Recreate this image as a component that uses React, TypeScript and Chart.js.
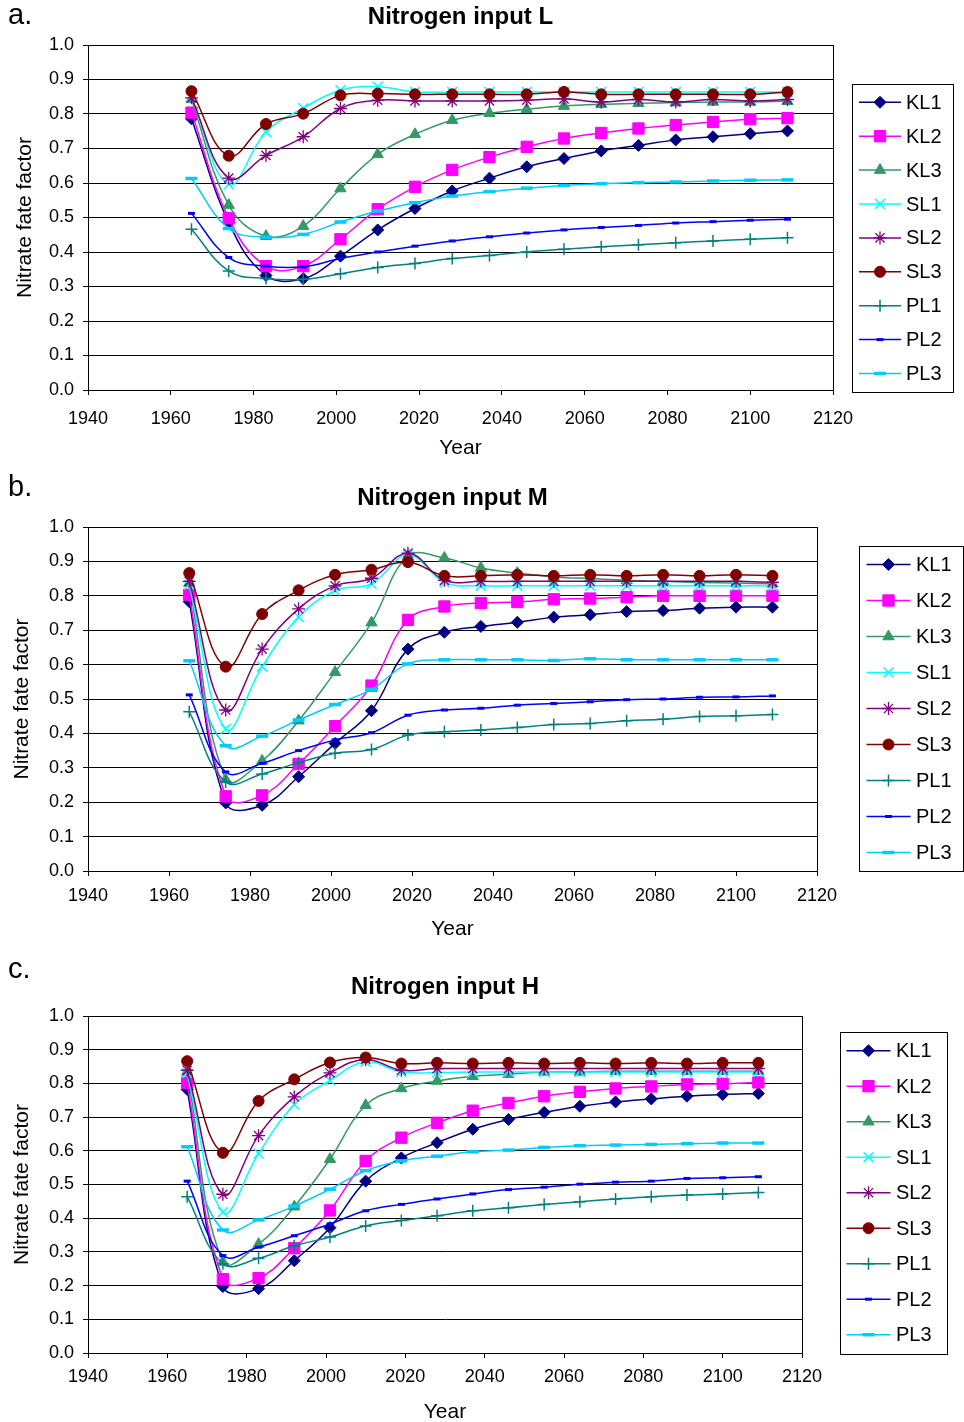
import React, { useEffect, useRef } from 'react';
import { Chart, registerables } from 'chart.js';

Chart.register(...registerables);

const FONT = '"Liberation Sans", Arial, Helvetica, sans-serif';
Chart.defaults.font.family = FONT;
Chart.defaults.color = '#000';

// ---------- data ----------
const YEARS = [1965, 1974, 1983, 1992, 2001, 2010, 2019, 2028, 2037, 2046, 2055, 2064, 2073, 2082, 2091, 2100, 2109];
const NAMES = ['KL1', 'KL2', 'KL3', 'SL1', 'SL2', 'SL3', 'PL1', 'PL2', 'PL3'];
const X_MIN = 1940;
const X_MAX = 2120;
const X_STEP = 20;
const Y_MIN = 0;
const Y_MAX = 1;
const Y_STEP = 0.1;

// Nitrogen input L
const L_KL1 = [0.786, 0.485, 0.332, 0.323, 0.388, 0.464, 0.526, 0.577, 0.614, 0.647, 0.671, 0.693, 0.709, 0.725, 0.734, 0.743, 0.751];
const L_KL2 = [0.804, 0.498, 0.359, 0.359, 0.437, 0.524, 0.589, 0.638, 0.675, 0.705, 0.729, 0.745, 0.758, 0.768, 0.777, 0.785, 0.788];
const L_KL3 = [0.843, 0.536, 0.446, 0.475, 0.584, 0.683, 0.741, 0.782, 0.802, 0.814, 0.823, 0.828, 0.831, 0.833, 0.835, 0.835, 0.837];
const L_SL1 = [0.850, 0.596, 0.748, 0.817, 0.869, 0.879, 0.864, 0.864, 0.864, 0.864, 0.864, 0.864, 0.864, 0.864, 0.864, 0.864, 0.864];
const L_SL2 = [0.847, 0.614, 0.680, 0.734, 0.816, 0.840, 0.838, 0.838, 0.838, 0.840, 0.844, 0.835, 0.842, 0.835, 0.842, 0.838, 0.842];
const L_SL3 = [0.866, 0.679, 0.771, 0.801, 0.854, 0.859, 0.857, 0.857, 0.857, 0.857, 0.864, 0.857, 0.857, 0.857, 0.857, 0.857, 0.864];
const L_PL1 = [0.466, 0.345, 0.323, 0.321, 0.337, 0.355, 0.367, 0.381, 0.390, 0.400, 0.408, 0.415, 0.421, 0.427, 0.432, 0.437, 0.441];
const L_PL2 = [0.512, 0.384, 0.359, 0.357, 0.381, 0.400, 0.417, 0.432, 0.444, 0.455, 0.464, 0.471, 0.477, 0.484, 0.488, 0.492, 0.495];
const L_PL3 = [0.613, 0.468, 0.443, 0.451, 0.487, 0.519, 0.543, 0.562, 0.575, 0.585, 0.593, 0.598, 0.601, 0.603, 0.606, 0.608, 0.609];

// Nitrogen input M
const M_KL1 = [0.783, 0.198, 0.191, 0.274, 0.371, 0.466, 0.645, 0.694, 0.711, 0.723, 0.738, 0.745, 0.754, 0.757, 0.764, 0.767, 0.767];
const M_KL2 = [0.803, 0.217, 0.220, 0.311, 0.421, 0.539, 0.730, 0.769, 0.779, 0.782, 0.790, 0.792, 0.796, 0.800, 0.800, 0.800, 0.800];
const M_KL3 = [0.837, 0.266, 0.320, 0.437, 0.578, 0.722, 0.915, 0.910, 0.881, 0.866, 0.855, 0.850, 0.845, 0.842, 0.839, 0.837, 0.835];
const M_SL1 = [0.832, 0.413, 0.594, 0.738, 0.815, 0.835, 0.919, 0.839, 0.829, 0.829, 0.829, 0.829, 0.829, 0.829, 0.829, 0.829, 0.829];
const M_SL2 = [0.842, 0.468, 0.645, 0.762, 0.829, 0.851, 0.924, 0.845, 0.842, 0.842, 0.842, 0.842, 0.842, 0.842, 0.842, 0.842, 0.839];
const M_SL3 = [0.866, 0.594, 0.747, 0.816, 0.861, 0.876, 0.898, 0.858, 0.858, 0.861, 0.858, 0.861, 0.858, 0.861, 0.858, 0.861, 0.858];
const M_PL1 = [0.463, 0.259, 0.282, 0.315, 0.342, 0.353, 0.395, 0.405, 0.410, 0.417, 0.426, 0.429, 0.437, 0.441, 0.449, 0.451, 0.455];
const M_PL2 = [0.512, 0.288, 0.313, 0.350, 0.381, 0.402, 0.453, 0.468, 0.473, 0.482, 0.487, 0.492, 0.498, 0.500, 0.505, 0.506, 0.509];
const M_PL3 = [0.611, 0.364, 0.392, 0.439, 0.484, 0.528, 0.602, 0.614, 0.614, 0.614, 0.612, 0.617, 0.614, 0.614, 0.614, 0.614, 0.614];

// Nitrogen input H
const H_KL1 = [0.782, 0.197, 0.191, 0.274, 0.372, 0.510, 0.579, 0.624, 0.664, 0.693, 0.714, 0.732, 0.745, 0.754, 0.762, 0.767, 0.770];
const H_KL2 = [0.802, 0.219, 0.222, 0.311, 0.423, 0.570, 0.639, 0.683, 0.719, 0.742, 0.762, 0.775, 0.785, 0.791, 0.797, 0.799, 0.803];
const H_KL3 = [0.834, 0.270, 0.323, 0.434, 0.575, 0.735, 0.785, 0.807, 0.821, 0.827, 0.834, 0.834, 0.836, 0.836, 0.836, 0.836, 0.836];
const H_SL1 = [0.831, 0.418, 0.592, 0.737, 0.809, 0.864, 0.834, 0.832, 0.834, 0.834, 0.834, 0.834, 0.834, 0.834, 0.834, 0.834, 0.834];
const H_SL2 = [0.839, 0.471, 0.645, 0.760, 0.831, 0.871, 0.839, 0.844, 0.844, 0.844, 0.844, 0.844, 0.844, 0.844, 0.844, 0.844, 0.844];
const H_SL3 = [0.866, 0.594, 0.748, 0.812, 0.862, 0.877, 0.859, 0.861, 0.859, 0.861, 0.859, 0.861, 0.859, 0.861, 0.859, 0.861, 0.861];
const H_PL1 = [0.464, 0.265, 0.281, 0.318, 0.344, 0.377, 0.393, 0.407, 0.422, 0.431, 0.441, 0.449, 0.457, 0.464, 0.469, 0.472, 0.476];
const H_PL2 = [0.510, 0.289, 0.314, 0.348, 0.383, 0.422, 0.441, 0.457, 0.472, 0.485, 0.492, 0.501, 0.507, 0.510, 0.518, 0.520, 0.523];
const H_PL3 = [0.612, 0.365, 0.395, 0.436, 0.486, 0.541, 0.570, 0.584, 0.597, 0.602, 0.610, 0.615, 0.617, 0.619, 0.621, 0.623, 0.623];

// ---------- styles ----------
type Sty = { color: string; style: string; radius: number; pbw: number };
const STYLES: Sty[] = [
  { color: '#000080', style: 'rectRot', radius: 6, pbw: 1 },
  { color: '#FF00FF', style: 'rect', radius: 8, pbw: 1 },
  { color: '#339966', style: 'triangle', radius: 6.5, pbw: 1 },
  { color: '#00FFFF', style: 'crossRot', radius: 7, pbw: 1.5 },
  { color: '#800080', style: 'star', radius: 6.5, pbw: 1.3 },
  { color: '#800000', style: 'circle', radius: 5.5, pbw: 1 },
  { color: '#008080', style: 'cross', radius: 6, pbw: 1.5 },
  { color: '#0000FF', style: 'line', radius: 3.5, pbw: 3 },
  { color: '#00CCFF', style: 'line', radius: 6, pbw: 3.5 },
];

type Panel = {
  top: number; height: number;
  chartTop: number; chartBottom: number; chartRight: number;
  label: string; labelBaseline: number;
  title: string; titleY: number;
  xTickPad: number; yearPad: number; yTitlePad: number;
  legend: { x0: number; y0: number; x1: number; y1: number; lx0: number; lx1: number; tx: number; firstY: number; step: number };
  series: number[][];
};

const PANELS: Panel[] = [
  {
    top: 0, height: 470, chartTop: 45, chartBottom: 390, chartRight: 833,
    label: 'a.', labelBaseline: 24, title: 'Nitrogen input L', titleY: 17.5,
    xTickPad: 13.5, yearPad: 9, yTitlePad: 12.4,
    legend: { x0: 852, y0: 83.5, x1: 953, y1: 391, lx0: 859, lx1: 901, tx: 906, firstY: 102.3, step: 33.9 },
    series: [L_KL1, L_KL2, L_KL3, L_SL1, L_SL2, L_SL3, L_PL1, L_PL2, L_PL3],
  },
  {
    top: 470, height: 480, chartTop: 527, chartBottom: 871, chartRight: 817,
    label: 'b.', labelBaseline: 496, title: 'Nitrogen input M', titleY: 498,
    xTickPad: 9, yearPad: 8.5, yTitlePad: 9.4,
    legend: { x0: 859, y0: 546, x1: 963, y1: 871, lx0: 866.5, lx1: 910.5, tx: 916, firstY: 564.5, step: 36 },
    series: [M_KL1, M_KL2, M_KL3, M_SL1, M_SL2, M_SL3, M_PL1, M_PL2, M_PL3],
  },
  {
    top: 950, height: 472, chartTop: 1016, chartBottom: 1353, chartRight: 802,
    label: 'c.', labelBaseline: 978, title: 'Nitrogen input H', titleY: 987,
    xTickPad: 8, yearPad: -2.5, yTitlePad: 9.4,
    legend: { x0: 839.5, y0: 1031.5, x1: 946, y1: 1353, lx0: 846.5, lx1: 890.5, tx: 896, firstY: 1050.7, step: 35.5 },
    series: [H_KL1, H_KL2, H_KL3, H_SL1, H_SL2, H_SL3, H_PL1, H_PL2, H_PL3],
  },
];

function drawMarker(ctx: CanvasRenderingContext2D, st: Sty, x: number, y: number) {
  const r = st.radius;
  ctx.save();
  ctx.fillStyle = st.color;
  ctx.strokeStyle = st.color;
  ctx.lineWidth = st.pbw;
  ctx.beginPath();
  const d = r * Math.SQRT1_2;
  switch (st.style) {
    case 'circle':
      ctx.arc(x, y, r, 0, Math.PI * 2);
      ctx.fill(); ctx.stroke();
      break;
    case 'rect':
      ctx.rect(x - d, y - d, 2 * d, 2 * d);
      ctx.fill(); ctx.stroke();
      break;
    case 'rectRot':
      ctx.moveTo(x, y - r); ctx.lineTo(x + r, y); ctx.lineTo(x, y + r); ctx.lineTo(x - r, y); ctx.closePath();
      ctx.fill(); ctx.stroke();
      break;
    case 'triangle':
      ctx.moveTo(x, y - r);
      ctx.lineTo(x + r * Math.sin((2 * Math.PI) / 3), y - r * Math.cos((2 * Math.PI) / 3));
      ctx.lineTo(x + r * Math.sin((4 * Math.PI) / 3), y - r * Math.cos((4 * Math.PI) / 3));
      ctx.closePath();
      ctx.fill(); ctx.stroke();
      break;
    case 'crossRot':
      ctx.moveTo(x - d, y - d); ctx.lineTo(x + d, y + d);
      ctx.moveTo(x + d, y - d); ctx.lineTo(x - d, y + d);
      ctx.stroke();
      break;
    case 'cross':
      ctx.moveTo(x - r, y); ctx.lineTo(x + r, y);
      ctx.moveTo(x, y - r); ctx.lineTo(x, y + r);
      ctx.stroke();
      break;
    case 'star':
      ctx.moveTo(x - r, y); ctx.lineTo(x + r, y);
      ctx.moveTo(x, y - r); ctx.lineTo(x, y + r);
      ctx.moveTo(x - d, y - d); ctx.lineTo(x + d, y + d);
      ctx.moveTo(x + d, y - d); ctx.lineTo(x - d, y + d);
      ctx.stroke();
      break;
    case 'line':
      ctx.moveTo(x - r, y); ctx.lineTo(x + r, y);
      ctx.stroke();
      break;
  }
  ctx.restore();
}

function PanelChart({ p }: { p: Panel }) {
  const ref = useRef<HTMLCanvasElement | null>(null);
  useEffect(() => {
    const canvas = ref.current;
    if (!canvas) return;
    const T = p.top;
    const xAxisH = p.height - (p.chartBottom - T);

    const decor = {
      id: 'decor',
      afterDraw(chart: any) {
        const ctx: CanvasRenderingContext2D = chart.ctx;
        const a = chart.chartArea;
        ctx.save();
        // right frame of plot area
        ctx.strokeStyle = '#000';
        ctx.lineWidth = 1;
        const rx = Math.round(a.right - 0.5) + 0.5;
        ctx.beginPath();
        ctx.moveTo(rx, a.top);
        ctx.lineTo(rx, a.bottom);
        ctx.stroke();
        // panel label
        ctx.fillStyle = '#000';
        ctx.font = `29px ${FONT}`;
        ctx.textAlign = 'left';
        ctx.textBaseline = 'alphabetic';
        ctx.fillText(p.label, 8, p.labelBaseline - T);
        // title
        ctx.font = `bold 24px ${FONT}`;
        ctx.textAlign = 'center';
        ctx.textBaseline = 'middle';
        ctx.fillText(p.title, (a.left + a.right) / 2, p.titleY - T);
        // legend
        const L = p.legend;
        ctx.strokeStyle = '#000';
        ctx.lineWidth = 1;
        ctx.strokeRect(Math.round(L.x0) + 0.5, Math.round(L.y0 - T) + 0.5, Math.round(L.x1 - L.x0), Math.round(L.y1 - L.y0));
        ctx.font = `20px ${FONT}`;
        ctx.textAlign = 'left';
        ctx.textBaseline = 'middle';
        NAMES.forEach((n, i) => {
          const y = L.firstY + i * L.step - T;
          const st = STYLES[i];
          ctx.strokeStyle = st.color;
          ctx.lineWidth = 1.5;
          ctx.beginPath();
          ctx.moveTo(L.lx0, y);
          ctx.lineTo(L.lx1, y);
          ctx.stroke();
          drawMarker(ctx, st, (L.lx0 + L.lx1) / 2, y);
          ctx.fillStyle = '#000';
          ctx.fillText(n, L.tx, y + 1);
        });
        ctx.restore();
      },
    };

    const datasets = p.series.map((vals, i) => {
      const st = STYLES[i];
      return {
        label: NAMES[i],
        data: YEARS.map((x, j) => ({ x, y: vals[j] })),
        borderColor: st.color,
        backgroundColor: st.color,
        borderWidth: 1.5,
        pointStyle: st.style,
        pointRadius: st.radius,
        pointHoverRadius: st.radius,
        pointBorderWidth: st.pbw,
        pointBackgroundColor: st.color,
        pointBorderColor: st.color,
        tension: 0.4,
        fill: false,
        order: -i,
      };
    });

    const chart = new Chart(canvas, {
      type: 'line',
      data: { datasets } as any,
      options: {
        responsive: false,
        maintainAspectRatio: false,
        animation: false,
        devicePixelRatio: 1,
        events: [],
        layout: { padding: { left: 0, top: p.chartTop - T, right: 964 - p.chartRight, bottom: 0 } },
        plugins: {
          legend: { display: false },
          title: { display: false },
          tooltip: { enabled: false },
        },
        scales: {
          x: {
            type: 'linear',
            min: X_MIN,
            max: X_MAX,
            ticks: {
              stepSize: X_STEP,
              autoSkip: false,
              maxRotation: 0,
              color: '#000',
              font: { size: 18 },
              padding: p.xTickPad,
              callback: (v: any) => String(v),
            },
            grid: { drawOnChartArea: false, drawTicks: true, tickLength: 5, color: '#000', lineWidth: 1 },
            border: { display: true, color: '#000', width: 1 },
            title: { display: true, text: 'Year', color: '#000', font: { size: 21 }, padding: { top: 0, bottom: p.yearPad } },
            afterFit: (s: any) => { s.height = xAxisH; },
          },
          y: {
            type: 'linear',
            min: Y_MIN,
            max: Y_MAX,
            ticks: {
              stepSize: Y_STEP,
              color: '#000',
              font: { size: 18 },
              padding: 9,
              callback: (v: any) => Number(v).toFixed(1),
            },
            grid: { drawOnChartArea: true, drawTicks: true, tickLength: 5, color: '#000', lineWidth: 1 },
            border: { display: true, color: '#000', width: 1 },
            title: { display: true, text: 'Nitrate fate factor', color: '#000', font: { size: 21 }, padding: { top: p.yTitlePad, bottom: 0 } },
            afterFit: (s: any) => { s.width = 88; },
          },
        },
      } as any,
      plugins: [decor],
    });
    return () => chart.destroy();
  }, [p]);

  return (
    <canvas
      ref={ref}
      width={964}
      height={p.height}
      style={{ position: 'absolute', left: 0, top: p.top, width: 964, height: p.height, display: 'block' }}
    />
  );
}

export default function App() {
  return (
    <div style={{ position: 'absolute', left: 0, top: 0, width: 964, height: 1422, overflow: 'hidden', background: '#fff' }}>
      {PANELS.map((p) => (
        <PanelChart key={p.label} p={p} />
      ))}
    </div>
  );
}
